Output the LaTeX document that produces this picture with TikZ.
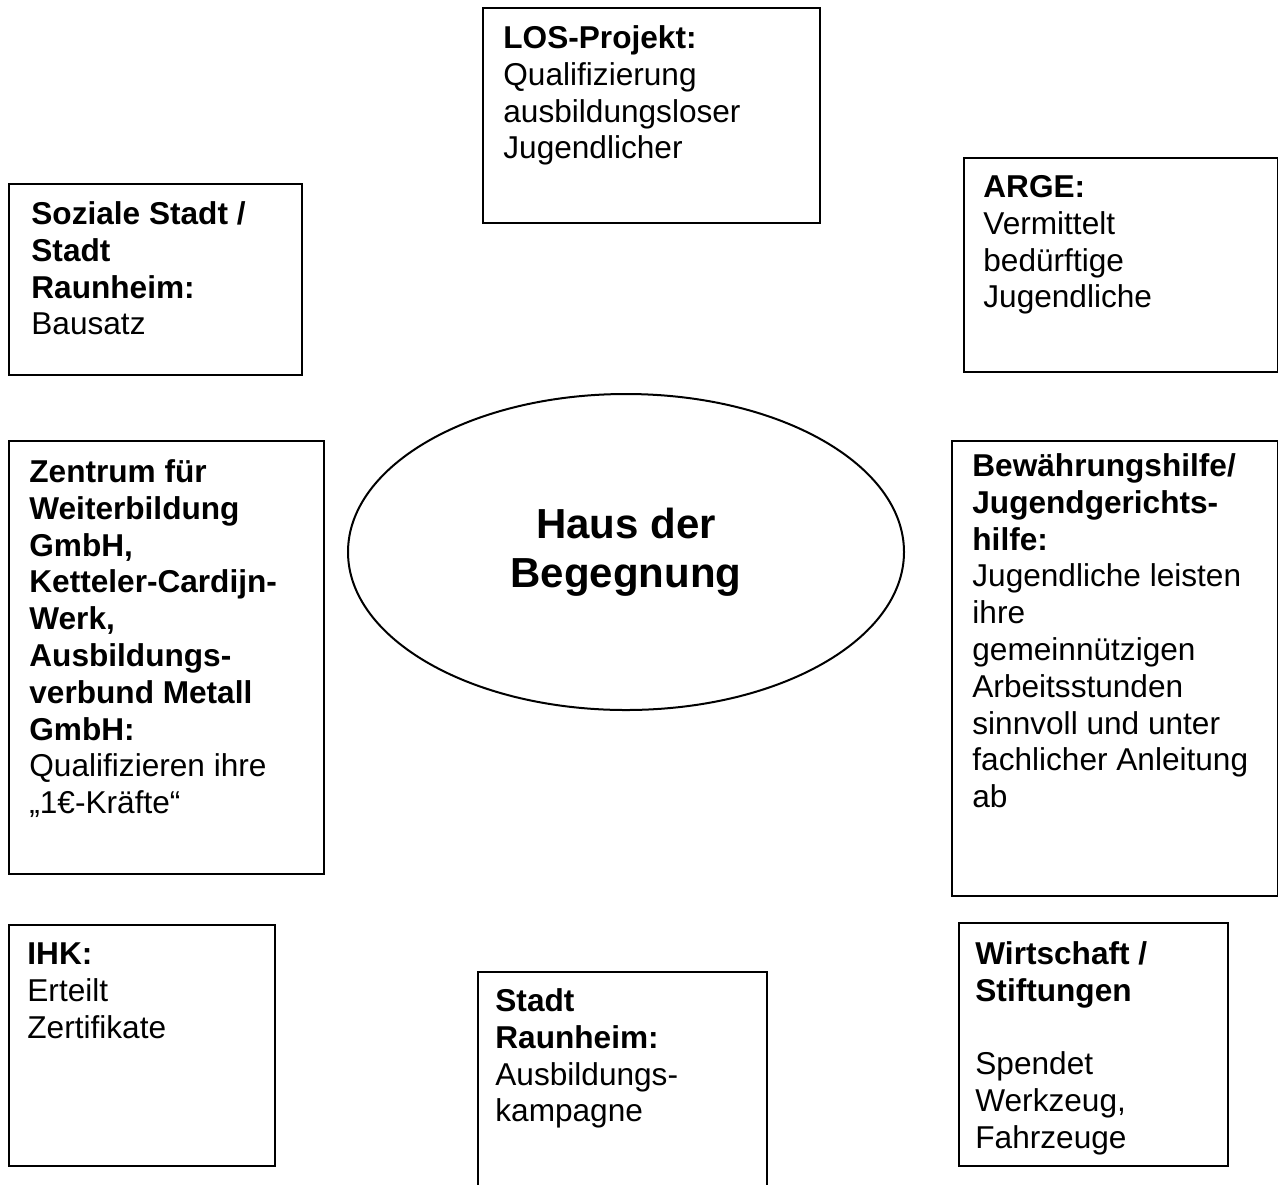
\documentclass[tikz,border=0pt]{standalone}
\usepackage{fontspec}
\setmainfont{Liberation Sans}
\usetikzlibrary{shapes.geometric}
\begin{document}
\begin{tikzpicture}[x=0.5pt,y=-0.5pt,
  box/.style={draw, line width=1pt, inner sep=0pt, anchor=north west},
  txt/.style={anchor=north west, inner sep=0pt, align=left, font=\fontsize{15.8}{18.4}\selectfont},
  hub/.style={draw, line width=1pt, ellipse, inner sep=0pt, minimum width=278pt, minimum height=158pt,
    align=center, font=\fontsize{21}{24.5}\selectfont\bfseries}
]
\useasboundingbox (0,0) rectangle (1278,1184);
\newcommand\fl{\rule{0pt}{12pt}}

% boxes
\node[box, minimum width=168.5pt, minimum height=107.5pt] (los) at (482,7) {};
\node[box, minimum width=157pt, minimum height=107pt] (arge) at (963,157) {};
\node[box, minimum width=146.5pt, minimum height=95.5pt] (soz) at (8,183) {};
\node[box, minimum width=157.5pt, minimum height=216.5pt] (zen) at (8,440) {};
\node[box, minimum width=163pt, minimum height=227.5pt] (bew) at (951,440) {};
\node[box, minimum width=133pt, minimum height=120.5pt] (ihk) at (8,924) {};
\node[box, minimum width=144.5pt, minimum height=115pt] (sra) at (477,971) {};
\node[box, minimum width=134.5pt, minimum height=121.5pt] (wir) at (958,922) {};

% ellipse
\node[hub] (haus) at (626,552) {Haus der\\Begegnung};

% texts
\node[txt] (tlos) at ([shift={(21,17)}]los.north west)
  {\fl\textbf{LOS-Projekt:}\\Qualifizierung\\ausbildungsloser\\Jugendlicher};
\node[txt] (targe) at ([shift={(20,16)}]arge.north west)
  {\fl\textbf{ARGE:}\\Vermittelt\\bedürftige\\Jugendliche};
\node[txt] (tsoz) at ([shift={(23,17)}]soz.north west)
  {\fl\textbf{Soziale Stadt /}\\\textbf{Stadt}\\\textbf{Raunheim:}\\Bausatz};
\node[txt] (tzen) at ([shift={(21,18)}]zen.north west)
  {\fl\textbf{Zentrum für}\\\textbf{Weiterbildung}\\\textbf{GmbH,}\\\textbf{Ketteler-Cardijn-}\\\textbf{Werk,}\\\textbf{Ausbildungs-}\\\textbf{verbund Metall}\\\textbf{GmbH:}\\Qualifizieren ihre\\„1€-Kräfte“};
\node[txt] (tbew) at ([shift={(21,12)}]bew.north west)
  {\fl\textbf{Bewährungshilfe/}\\\textbf{Jugendgerichts-}\\\textbf{hilfe:}\\Jugendliche leisten\\ihre\\gemeinnützigen\\Arbeitsstunden\\sinnvoll und unter\\fachlicher Anleitung\\ab};
\node[txt] (tihk) at ([shift={(19,16)}]ihk.north west)
  {\fl\textbf{IHK:}\\Erteilt\\Zertifikate};
\node[txt] (tsra) at ([shift={(18,16)}]sra.north west)
  {\fl\textbf{Stadt}\\\textbf{Raunheim:}\\Ausbildungs-\\kampagne};
\node[txt] (twir) at ([shift={(17,18)}]wir.north west)
  {\fl\textbf{Wirtschaft /}\\\textbf{Stiftungen}\\[18.4pt]Spendet\\Werkzeug,\\Fahrzeuge};
\end{tikzpicture}
\end{document}
